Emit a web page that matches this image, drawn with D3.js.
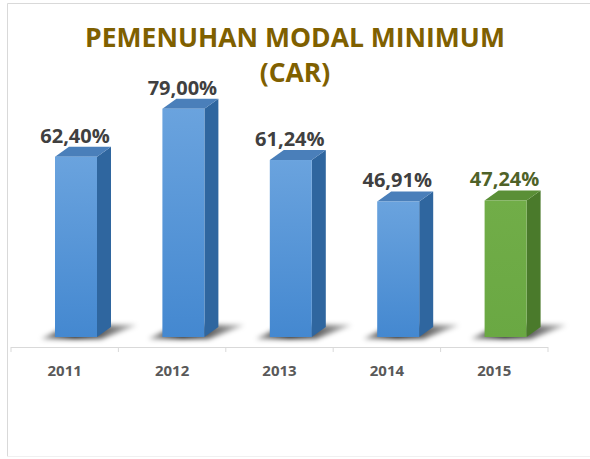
<!DOCTYPE html>
<html>
<head>
  <meta charset="utf-8">
  <title>Pemenuhan Modal Minimum (CAR)</title>
  <style>
    body { margin: 0; background: #fff; }
    svg { display: block; }
  </style>
</head>
<body>
  <svg></svg>
  <script src="https://d3js.org/d3.v7.min.js"></script>
  <script>
    const years = ["2011", "2012", "2013", "2014", "2015"];
    const values = [62.40, 79.00, 61.24, 46.91, 47.24];
    const labels = ["62,40%", "79,00%", "61,24%", "46,91%", "47,24%"];
    const titleLines = ["PEMENUHAN MODAL MINIMUM", "(CAR)"];

    const width = 590;
    const height = 459;
    const depthX = 14;
    const depthY = 10;
    const barW = 42;

    const x = d3.scaleBand().domain(years).range([11, 548]).padding(0);
    const y = d3.scaleLinear().domain([0, 100]).range([337, 48]);

    const svg = d3.select("svg")
      .attr("width", width)
      .attr("height", height)
      .attr("viewBox", [0, 0, width, height]);

    const defs = svg.append("defs");
    defs.append("filter").attr("id", "blur")
      .attr("x", "-50%").attr("y", "-200%").attr("width", "200%").attr("height", "500%")
      .append("feGaussianBlur").attr("stdDeviation", 2.5);

    function grad(id, c1, c2) {
      const g = defs.append("linearGradient").attr("id", id)
        .attr("x1", 0).attr("y1", 0).attr("x2", 0).attr("y2", 1);
      g.append("stop").attr("offset", "0%").attr("stop-color", c1);
      g.append("stop").attr("offset", "100%").attr("stop-color", c2);
    }
    grad("blueFront", "#6aa3de", "#4488d0");
    grad("greenFront", "#71ad48", "#6aa843");
    const sg = defs.append("linearGradient").attr("id", "shadowGrad")
      .attr("x1", 0).attr("y1", 0).attr("x2", 1).attr("y2", 0);
    sg.append("stop").attr("offset", "0%").attr("stop-color", "#000").attr("stop-opacity", 0.35);
    sg.append("stop").attr("offset", "35%").attr("stop-color", "#000").attr("stop-opacity", 0.9);
    sg.append("stop").attr("offset", "100%").attr("stop-color", "#000").attr("stop-opacity", 0.25);

    // frame
    svg.append("path")
      .attr("d", "M7.5,456.5 V3.5 H590")
      .attr("fill", "none")
      .attr("stroke", "#d9d9d9");
    svg.append("line")
      .attr("x1", 7).attr("x2", 590).attr("y1", 456.5).attr("y2", 456.5)
      .attr("stroke", "#f0f0f0");

    // title
    svg.append("text")
      .attr("x", 295).attr("y", 47)
      .attr("text-anchor", "middle")
      .attr("font-family", "Open Sans")
      .attr("font-weight", 700)
      .attr("font-size", 26.5)
      .attr("fill", "#7f6000")
      .selectAll("tspan")
      .data(titleLines)
      .join("tspan")
      .attr("x", 295)
      .attr("dy", (d, i) => i ? 35 : 0)
      .text(d => d);

    // axis line + ticks
    const axisY = 347;
    svg.append("line")
      .attr("x1", 11).attr("x2", 548)
      .attr("y1", axisY + 0.5).attr("y2", axisY + 0.5)
      .attr("stroke", "#d9d9d9");
    svg.selectAll(".tick")
      .data(years.map(d => x(d)).concat([x.range()[1]]))
      .join("line")
      .attr("x1", d => d).attr("x2", d => d)
      .attr("y1", axisY).attr("y2", axisY + 5)
      .attr("stroke", "#d9d9d9");

    svg.selectAll(".cat")
      .data(years)
      .join("text")
      .attr("x", d => x(d) + x.bandwidth() / 2)
      .attr("y", 376)
      .attr("text-anchor", "middle")
      .attr("font-family", "Open Sans")
      .attr("font-weight", 700)
      .attr("font-size", 15)
      .attr("fill", "#595959")
      .text(d => d);

    const bars = years.map((yr, i) => ({
      yr, v: values[i], label: labels[i], green: i === 4,
      x0: x(yr) + 44, top: y(values[i]), base: y(0)
    }));

    // shadows
    svg.append("g").attr("filter", "url(#blur)")
      .selectAll("path")
      .data(bars)
      .join("path")
      .attr("d", d => {
        const b = d.base;
        return `M${d.x0 - 14},${b + 2} L${d.x0 + barW + 4},${b + 2} L${d.x0 + barW + depthX + 26},${b - 12} L${d.x0 + depthX},${b - 12} Z`;
      })
      .attr("fill", "url(#shadowGrad)");

    const g = svg.append("g").selectAll("g").data(bars).join("g");

    // side face
    g.append("path")
      .attr("d", d => `M${d.x0 + barW},${d.top} L${d.x0 + barW + depthX},${d.top - depthY} L${d.x0 + barW + depthX},${d.base - depthY} L${d.x0 + barW},${d.base} Z`)
      .attr("fill", d => d.green ? "#4a7a2b" : "#2f669f");

    // top face
    g.append("path")
      .attr("d", d => `M${d.x0},${d.top} L${d.x0 + depthX},${d.top - depthY} L${d.x0 + barW + depthX},${d.top - depthY} L${d.x0 + barW},${d.top} Z`)
      .attr("fill", d => d.green ? "#5a8f36" : "#4a7fba");

    // front face
    g.append("rect")
      .attr("x", d => d.x0)
      .attr("y", d => d.top)
      .attr("width", barW)
      .attr("height", d => d.base - d.top)
      .attr("fill", d => d.green ? "url(#greenFront)" : "url(#blueFront)");

    // value labels
    g.append("text")
      .attr("x", d => d.x0 + barW / 2 - 1)
      .attr("y", d => d.top - 14)
      .attr("text-anchor", "middle")
      .attr("font-family", "Open Sans")
      .attr("font-weight", 700)
      .attr("font-size", 20)
      .attr("fill", d => d.green ? "#4f6228" : "#404040")
      .text(d => d.label);
  </script>
</body>
</html>
